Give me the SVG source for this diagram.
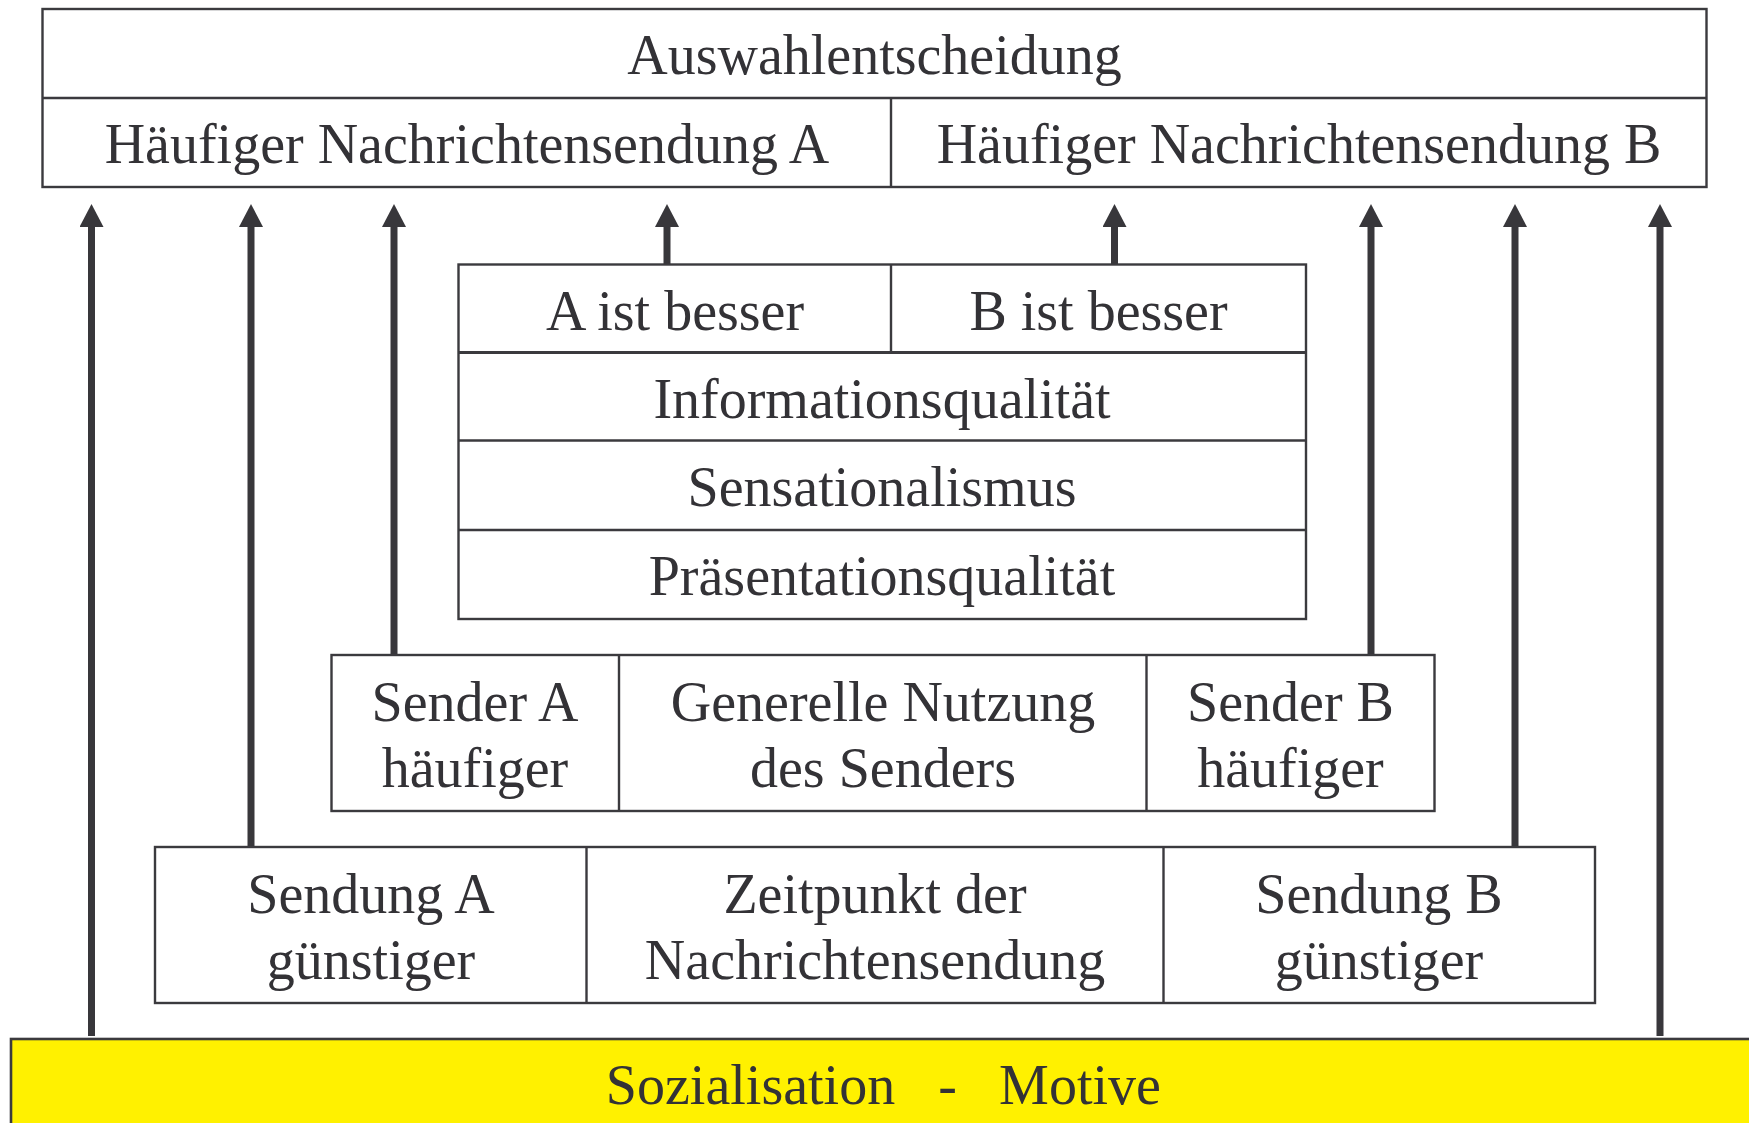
<svg xmlns="http://www.w3.org/2000/svg" width="1749" height="1123" viewBox="0 0 1749 1123">
<style>
.box{fill:#ffffff;stroke:#3b3a3e;stroke-width:2.4}
.div{stroke:#3b3a3e;stroke-width:2.4;fill:none}
.t{font-family:"Liberation Serif","Times New Roman",serif;font-size:56px;fill:#333236;text-anchor:middle}
.arr{stroke:#38373b;stroke-width:7;fill:none;marker-end:url(#ah)}
</style>
<defs>
<marker id="ah" markerUnits="userSpaceOnUse" markerWidth="24" markerHeight="24" viewBox="0 0 24 24" refX="0" refY="12" orient="auto">
<path d="M0,0 L23,12 L0,24 Z" fill="#38373b"/>
</marker>
</defs>
<rect width="1749" height="1123" fill="#ffffff"/>

<g id="auswahl">
<rect class="box" x="42.5" y="9" width="1664" height="178"/>
<line class="div" x1="42.5" y1="98" x2="1706.5" y2="98"/>
<line class="div" x1="891" y1="98" x2="891" y2="187"/>
<text class="t" x="874.5" y="74">Auswahlentscheidung</text>
<text class="t" x="467" y="163">Häufiger Nachrichtensendung A</text>
<text class="t" x="1299" y="163">Häufiger Nachrichtensendung B</text>
</g>

<g id="qualitaet">
<rect class="box" x="458.5" y="264.5" width="847.5" height="354.5"/>
<line class="div" x1="891" y1="264.5" x2="891" y2="352.5"/>
<line class="div" x1="458.5" y1="352.5" x2="1306" y2="352.5" style="stroke-width:3"/>
<line class="div" x1="458.5" y1="440.5" x2="1306" y2="440.5"/>
<line class="div" x1="458.5" y1="530" x2="1306" y2="530"/>
<text class="t" x="675" y="330">A ist besser</text>
<text class="t" x="1098.5" y="330">B ist besser</text>
<text class="t" x="882" y="418">Informationsqualität</text>
<text class="t" x="882" y="506">Sensationalismus</text>
<text class="t" x="882" y="595">Präsentationsqualität</text>
</g>

<g id="sender">
<rect class="box" x="331.5" y="655" width="1103" height="156"/>
<line class="div" x1="619" y1="655" x2="619" y2="811"/>
<line class="div" x1="1146.5" y1="655" x2="1146.5" y2="811"/>
<text class="t" x="475" y="721">Sender A</text>
<text class="t" x="475" y="787">häufiger</text>
<text class="t" x="883" y="721">Generelle Nutzung</text>
<text class="t" x="883" y="787">des Senders</text>
<text class="t" x="1290.5" y="721">Sender B</text>
<text class="t" x="1290.5" y="787">häufiger</text>
</g>

<g id="sendung">
<rect class="box" x="155" y="847" width="1440" height="156"/>
<line class="div" x1="586.5" y1="847" x2="586.5" y2="1003"/>
<line class="div" x1="1163.5" y1="847" x2="1163.5" y2="1003"/>
<text class="t" x="371" y="913">Sendung A</text>
<text class="t" x="371" y="979">günstiger</text>
<text class="t" x="875" y="913">Zeitpunkt der</text>
<text class="t" x="875" y="979">Nachrichtensendung</text>
<text class="t" x="1379" y="913">Sendung B</text>
<text class="t" x="1379" y="979">günstiger</text>
</g>

<g id="sozialisation">
<rect x="11" y="1039" width="1760" height="110" fill="#fff100" stroke="#3b3a3e" stroke-width="2.6"/>
<text class="t" x="750.5" y="1104">Sozialisation</text>
<text class="t" x="947.5" y="1104">-</text>
<text class="t" x="1080" y="1104">Motive</text>
</g>

<g id="connectors">
<line class="arr" x1="91.5" y1="1036" x2="91.5" y2="227"/>
<line class="arr" x1="251" y1="846" x2="251" y2="227"/>
<line class="arr" x1="394" y1="654" x2="394" y2="227"/>
<line class="arr" x1="667" y1="264" x2="667" y2="227"/>
<line class="arr" x1="1114.5" y1="264" x2="1114.5" y2="227"/>
<line class="arr" x1="1371" y1="654" x2="1371" y2="227"/>
<line class="arr" x1="1515" y1="846" x2="1515" y2="227"/>
<line class="arr" x1="1660" y1="1036" x2="1660" y2="227"/>
</g>
</svg>
